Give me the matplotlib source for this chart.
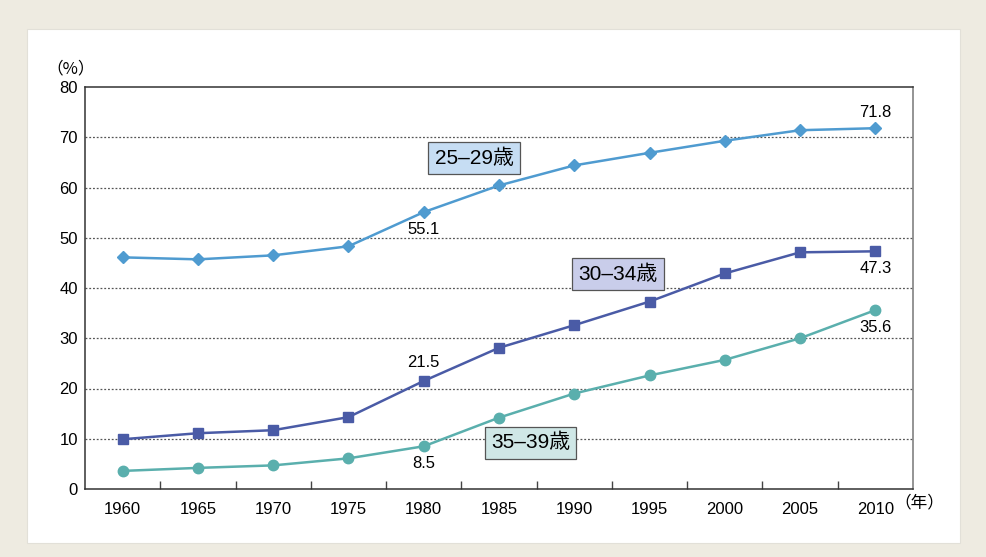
import numpy as np
import matplotlib
matplotlib.use('Agg')
import matplotlib.pyplot as plt
from matplotlib.patches import Rectangle

plt.rcParams['font.family'] = ['Liberation Sans', 'Noto Sans CJK JP', 'DejaVu Sans']

years = ['1960', '1965', '1970', '1975', '1980', '1985', '1990', '1995', '2000', '2005', '2010']
age_25_29 = [46.1, 45.7, 46.5, 48.3, 55.1, 60.4, 64.4, 66.9, 69.3, 71.4, 71.8]
age_30_34 = [9.9, 11.1, 11.7, 14.3, 21.5, 28.1, 32.6, 37.3, 42.9, 47.1, 47.3]
age_35_39 = [3.6, 4.2, 4.7, 6.1, 8.5, 14.2, 19.0, 22.6, 25.7, 30.0, 35.6]

c1 = '#4f9bd0'
c2 = '#4a5ba6'
c3 = '#5aafad'

fig = plt.figure(figsize=(9.86, 5.57), dpi=100)
fig.patch.set_facecolor('#eeebe1')
# white panel behind the chart
fig.patches.append(Rectangle((27/986, 1-543/557), 933/986, 514/557, transform=fig.transFigure,
                             facecolor='white', edgecolor='#e2e0d8', lw=0.8, zorder=-10))

ax = fig.add_axes([85/986, 1-489/557, 828/986, 402/557])
ax.set_facecolor('white')
x = np.arange(len(years))

ax.plot(x, age_25_29, color=c1, lw=1.8, marker='D', ms=6.5, zorder=3)
ax.plot(x, age_30_34, color=c2, lw=1.8, marker='s', ms=7.5, zorder=3)
ax.plot(x, age_35_39, color=c3, lw=1.8, marker='o', ms=7.5, zorder=3)

ax.set_xlim(-0.5, len(years) - 0.5)
ax.set_ylim(0, 80)
ax.set_yticks(range(0, 81, 10))
ax.set_xticks(x)
ax.set_xticklabels(years)
ax.set_xticks(np.arange(0.5, len(years) - 1, 1), minor=True)
ax.tick_params(axis='x', which='major', length=0, pad=9, labelsize=12)
ax.tick_params(axis='x', which='minor', direction='in', length=6, color='#444444', width=1)
ax.tick_params(axis='y', length=0, pad=5, labelsize=12)

for v in range(10, 80, 10):
    ax.axhline(v, color='#555555', lw=0.9, ls=(0, (1.5, 1.5)), zorder=1)

for s in ['left', 'bottom', 'top']:
    ax.spines[s].set_color('#333333')
    ax.spines[s].set_linewidth(1.1)
ax.spines['right'].set_color('#777777')
ax.spines['right'].set_linewidth(1.1)

# value labels
lab = dict(ha='center', va='center', fontsize=12)
ax.text(10, age_25_29[10] + 3.2, '71.8', **lab)
ax.text(4, age_25_29[4] - 3.5, '55.1', **lab)
ax.text(4, age_30_34[4] + 3.7, '21.5', **lab)
ax.text(10, age_30_34[10] - 3.5, '47.3', **lab)
ax.text(4, age_35_39[4] - 3.5, '8.5', **lab)
ax.text(10, age_35_39[10] - 3.5, '35.6', **lab)

# series boxes
box = dict(boxstyle='square,pad=0.3', lw=0.9, ec='#555555')
ax.text(4.67, 65.9, '25–29歳', ha='center', va='center', fontsize=15,
        bbox=dict(box, fc='#c6ddf3'))
ax.text(6.58, 42.8, '30–34歳', ha='center', va='center', fontsize=15,
        bbox=dict(box, fc='#c9cdea'))
ax.text(5.42, 9.2, '35–39歳', ha='center', va='center', fontsize=15,
        bbox=dict(box, fc='#cfe7e6'))

fig.text(71/986, 1-69/557, '（%）', ha='center', va='center', fontsize=12,
         family=['Noto Sans CJK JP', 'DejaVu Sans'])
fig.text(919/986, 1-503/557, '（年）', ha='center', va='center', fontsize=12,
         family=['Noto Sans CJK JP', 'DejaVu Sans'])

fig.savefig('out.png', dpi=100, facecolor=fig.get_facecolor())
